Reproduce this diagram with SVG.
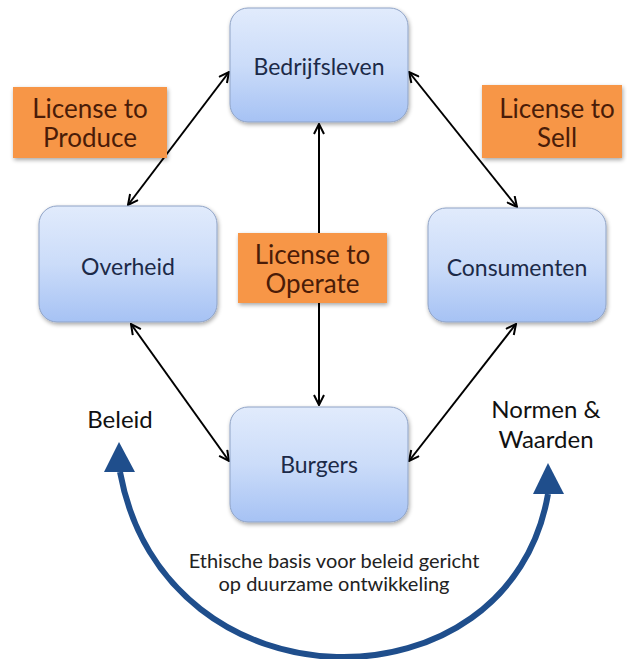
<svg xmlns="http://www.w3.org/2000/svg" width="627" height="659" viewBox="0 0 627 659">
<defs>
<linearGradient id="g" x1="0" y1="0" x2="0" y2="1">
<stop offset="0" stop-color="#e1ebfc"/>
<stop offset="0.5" stop-color="#cbdcf9"/>
<stop offset="1" stop-color="#a6c2f4"/>
</linearGradient>
<filter id="sh" x="-10%" y="-10%" width="125%" height="130%">
<feGaussianBlur in="SourceAlpha" stdDeviation="2"/>
<feOffset dx="1" dy="2" result="b"/>
<feComponentTransfer><feFuncA type="linear" slope="0.35"/></feComponentTransfer>
<feMerge><feMergeNode/><feMergeNode in="SourceGraphic"/></feMerge>
</filter>
<marker id="ah" viewBox="0 0 12 12" refX="11" refY="6" markerWidth="12" markerHeight="12" markerUnits="userSpaceOnUse" orient="auto-start-reverse">
<path d="M1,1 L11,6 L1,11" fill="none" stroke="#000" stroke-width="2"/>
</marker>
<style>
.node rect.b{fill:url(#g);stroke:#8fa3c6;stroke-width:1;filter:url(#sh)}
.node text{font-family:Lato,"Open Sans",sans-serif;font-size:23px;fill:#1c2a48;text-anchor:middle}
.lic rect{fill:#f79646;filter:url(#sh)}
.lic text{font-family:Lato,"Open Sans",sans-serif;font-size:26px;fill:#4a1c08;text-anchor:middle}
.lbl{font-family:Lato,"Open Sans",sans-serif;font-size:24px;fill:#111;text-anchor:middle}
.cap{font-family:Lato,"Open Sans",sans-serif;font-size:20px;fill:#222;text-anchor:middle}
.con line{stroke:#000;stroke-width:2;marker-start:url(#ah);marker-end:url(#ah)}
</style>
</defs>
<rect width="627" height="659" fill="#fff"/>
<g id="connectors" class="con">
<line x1="229" y1="72" x2="128" y2="205"/>
<line x1="409" y1="72" x2="517" y2="207"/>
<line x1="319" y1="124" x2="319" y2="405"/>
<line x1="131" y1="324" x2="229" y2="461"/>
<line x1="516" y1="324" x2="409" y2="461"/>
</g>
<g id="license-operate" class="lic"><rect x="238" y="233" width="149" height="70"/><text x="312.5" y="264">License to</text><text x="312.5" y="293">Operate</text></g>
<g id="license-produce" class="lic"><rect x="13" y="87" width="154" height="71"/><text x="90" y="118">License to</text><text x="90" y="147">Produce</text></g>
<g id="license-sell" class="lic"><rect x="482" y="85" width="140" height="73"/><text x="557" y="118">License to</text><text x="557" y="147">Sell</text></g>
<g id="bedrijfsleven" class="node"><rect class="b" x="230" y="8" width="178" height="114" rx="18"/><text x="319" y="75">Bedrijfsleven</text></g>
<g id="overheid" class="node"><rect class="b" x="39" y="206" width="178" height="116" rx="18"/><text x="128" y="275">Overheid</text></g>
<g id="consumenten" class="node"><rect class="b" x="428" y="208" width="178" height="114" rx="18"/><text x="517" y="276">Consumenten</text></g>
<g id="burgers" class="node"><rect class="b" x="230" y="407" width="178" height="115" rx="18"/><text x="319" y="473">Burgers</text></g>
<g id="cycle">
<path d="M120,472 C165,715 510,715 548,494" fill="none" stroke="#1f4e8c" stroke-width="6"/>
<polygon points="119,442 104,472 135,472" fill="#1f4e8c"/>
<polygon points="548,463 533,494 564,494" fill="#1f4e8c"/>
</g>
<text class="lbl" x="120" y="428">Beleid</text>
<text class="lbl" x="546" y="418">Normen &amp;</text>
<text class="lbl" x="546" y="448">Waarden</text>
<text class="cap" x="334" y="568">Ethische basis voor beleid gericht</text>
<text class="cap" x="334" y="591">op duurzame ontwikkeling</text>
</svg>
